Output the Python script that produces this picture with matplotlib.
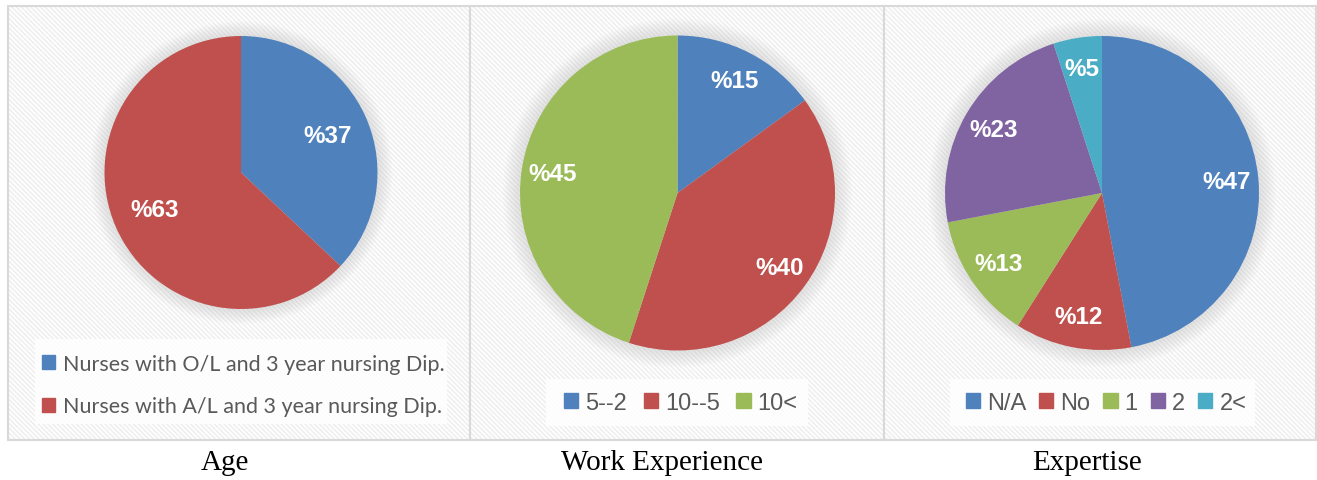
import matplotlib
matplotlib.use("Agg")
import matplotlib.pyplot as plt
from matplotlib.patches import Rectangle, Circle, Patch

# ---- data ----
age_labels = ["Nurses with O/L and 3 year nursing Dip.",
              "Nurses with A/L and 3 year nursing Dip."]
age_values = [37, 63]

work_labels = ["5--2", "10--5", "10<"]
work_values = [15, 40, 45]

exp_labels = ["N/A", "No", "1", "2", "2<"]
exp_values = [47, 12, 13, 23, 5]

titles = ["Age", "Work Experience", "Expertise"]

colors = ["#4F81BD", "#C0504D", "#9BBB59", "#8064A2", "#4BACC6"]

W, H = 1317, 481
plt.rcParams["hatch.linewidth"] = 1.2
fig = plt.figure(figsize=(W / 100, H / 100), dpi=100)

# background in pixel coordinates
bg = fig.add_axes([0, 0, 1, 1])
bg.set_xlim(0, W)
bg.set_ylim(H, 0)
bg.axis("off")

panels = [(8, 470), (470, 884), (884, 1316)]
for x0, x1 in panels:
    bg.add_patch(Rectangle((x0, 7), x1 - x0, 434, facecolor="white",
                           edgecolor="#efefef", hatch="\\" * 7, linewidth=0))
    bg.add_patch(Rectangle((x0, 7), x1 - x0, 434, facecolor="none",
                           edgecolor="#d9d9d9", linewidth=1.5))

# legend boxes
for x0, y0, x1, y1 in [(35, 340, 447, 425), (546, 380, 808, 427), (950, 380, 1255, 427)]:
    bg.add_patch(Rectangle((x0, y0), x1 - x0, y1 - y0, facecolor="white",
                           edgecolor="none", alpha=0.85))


def pie_axes(cx, cy, r):
    pad = 1.25
    rr = r * pad
    return fig.add_axes([(cx - rr) / W, 1 - (cy + rr) / H, 2 * rr / W, 2 * rr / H])


def draw_pie(ax, values, cols, pctd):
    ax.set_xlim(-1.25, 1.25)
    ax.set_ylim(-1.25, 1.25)
    ax.axis("off")
    # soft shadow
    for i in range(10):
        ax.add_patch(Circle((0.0, 0.0), 1.0 + 0.012 * i, color="#909090",
                            alpha=0.025, linewidth=0, zorder=0))
    wedges, _, autotexts = ax.pie(values, colors=cols, startangle=90,
                                  counterclock=False, radius=1.0,
                                  autopct=lambda p: "%{:.0f}".format(p),
                                  pctdistance=pctd,
                                  wedgeprops=dict(linewidth=0))
    for t in autotexts:
        t.set_color("white")
        t.set_fontweight("bold")
        t.set_fontsize(17.5)
        t.set_fontfamily("Liberation Sans")
    ax.set_aspect("equal")
    return wedges


ax1 = pie_axes(241, 173.5, 136.5)
w1 = draw_pie(ax1, age_values, colors[:2], 0.69)
ax2 = pie_axes(677.5, 194, 157.5)
w2 = draw_pie(ax2, work_values, colors[:3], 0.8)
ax3 = pie_axes(1102, 194, 157)
w3 = draw_pie(ax3, exp_values, colors[:5], 0.8)

# legends
h1 = [Patch(color=c) for c in colors[:2]]
fig.legend(h1, age_labels, loc="center left", bbox_to_anchor=(23 / W, 1 - 386 / H),
           frameon=False, ncol=1, handlelength=0.6, handleheight=0.6,
           handletextpad=0.35, labelspacing=1.05,
           prop=dict(family="Lato", size=15.5), labelcolor="#595959")

h2 = [Patch(color=c) for c in colors[:3]]
fig.legend(h2, work_labels, loc="center", bbox_to_anchor=(681 / W, 1 - 404 / H),
           frameon=False, ncol=3, handlelength=0.6, handleheight=0.6,
           handletextpad=0.3, columnspacing=0.7,
           prop=dict(family="Liberation Sans", size=17), labelcolor="#595959")

h3 = [Patch(color=c) for c in colors[:5]]
fig.legend(h3, exp_labels, loc="center", bbox_to_anchor=(1106 / W, 1 - 404 / H),
           frameon=False, ncol=5, handlelength=0.6, handleheight=0.6,
           handletextpad=0.3, columnspacing=0.55,
           prop=dict(family="Liberation Sans", size=17), labelcolor="#595959")

# titles under panels
for xc, t in zip([225, 662, 1087], titles):
    bg.text(xc, 463, t, ha="center", va="center", fontsize=21,
            family="Liberation Serif", color="black")

fig.savefig("out.png", dpi=100)
